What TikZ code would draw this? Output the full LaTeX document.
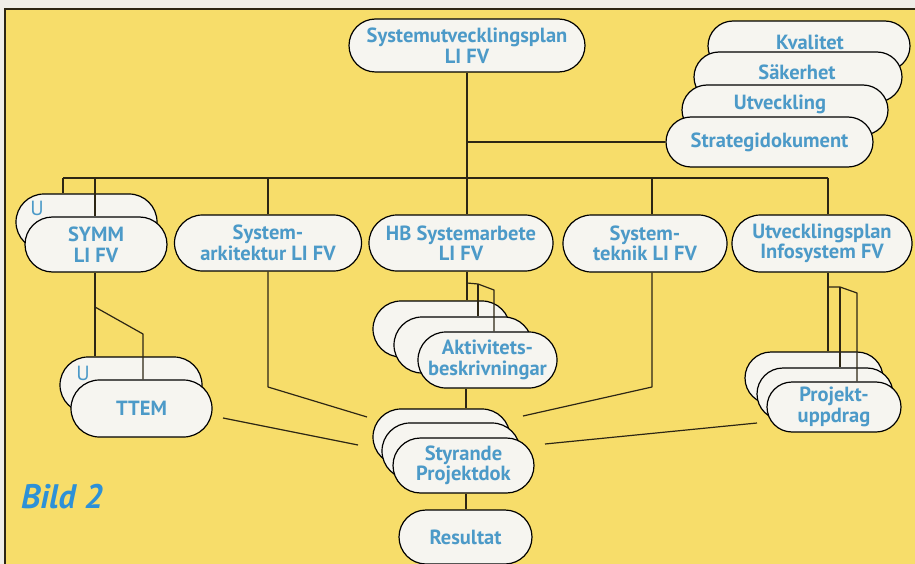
\documentclass[tikz,border=0pt]{standalone}
\usepackage{fontspec}
\setmainfont{PT Sans}
\usetikzlibrary{shapes.misc}
\definecolor{bgyellow}{RGB}{247,221,106}
\definecolor{outside}{RGB}{240,238,232}
\definecolor{pillbg}{RGB}{246,245,240}
\definecolor{txtblue}{RGB}{76,154,200}
\definecolor{bildblue}{RGB}{45,145,215}
\definecolor{linec}{RGB}{45,38,20}
\newcommand{\pillfont}{\bfseries\fontsize{20.5}{20.5}\selectfont}
\begin{document}
\begin{tikzpicture}[x=1pt,y=-1pt,
  pill/.style={rounded rectangle, draw=black, fill=pillbg, line width=1.2pt,
    inner sep=0pt, text=txtblue, font=\pillfont, align=center},
  lbl/.style={text=txtblue, font=\pillfont, inner sep=0pt},
  ulbl/.style={text=txtblue, font=\fontsize{20.5}{20.5}\selectfont, inner sep=0pt},
  conn/.style={draw=linec, line width=1.2pt, line join=round}]
\useasboundingbox (0,0) rectangle (915,564);
\clip (0,0) rectangle (915,564);
\fill[outside] (0,0) rectangle (915,564);
\draw[fill=bgyellow, draw=linec, line width=1.2pt] (5,9) rectangle (940,590);

% top node
\node[pill, minimum width=236pt, minimum height=53pt] (top) at (467,45.5) {Systemutvecklingsplan\\LI FV};

% strategy stack
\node[pill, minimum width=202pt, minimum height=50pt] (kval) at (809,46) {};
\node[lbl] (kvalt) at (810,42) {Kvalitet};
\node[pill, minimum width=208pt, minimum height=50pt] (sak) at (798,77) {};
\node[lbl] (sakt) at (797,72) {Säkerhet};
\node[pill, minimum width=206pt, minimum height=50pt] (utv) at (785,110) {};
\node[lbl] (utvt) at (780,104) {Utveckling};
\node[pill, minimum width=207pt, minimum height=50pt] (strat) at (769.5,142) {Strategidokument};

% second row
\node[pill, minimum width=141pt, minimum height=56pt] (symmU) at (86.5,222) {};
\node[ulbl] (symmUt) at (37,208) {U};
\node[pill, minimum width=142pt, minimum height=55pt] (symm) at (96,244.5) {SYMM\\LI FV};
\node[pill, minimum width=187pt, minimum height=56pt] (arch) at (268,243) {System-\\arkitektur LI FV};
\node[pill, minimum width=184pt, minimum height=56pt] (hb) at (461,243) {HB Systemarbete\\LI FV};
\node[pill, minimum width=164pt, minimum height=57pt] (tek) at (645,243.5) {System-\\teknik LI FV};
\node[pill, minimum width=180pt, minimum height=57pt] (uip) at (822,243.5) {Utvecklingsplan\\Infosystem FV};

% TTEM stack
\node[pill, minimum width=142pt, minimum height=56pt] (ttemU) at (131,385) {};
\node[ulbl] (ttemUt) at (83,373) {U};
\node[pill, minimum width=141pt, minimum height=57pt] (ttem) at (141.5,408.5) {TTEM};

% Aktivitets stack
\node[pill, minimum width=137pt, minimum height=56pt] (akt1) at (441.5,329) {};
\node[pill, minimum width=138pt, minimum height=56pt] (akt2) at (463,345) {};
\node[pill, minimum width=139pt, minimum height=56pt] (akt3) at (487.5,360) {Aktivitets-\\beskrivningar};

% Styrande stack
\node[pill, minimum width=137pt, minimum height=56pt] (sty1) at (441.5,437) {};
\node[pill, minimum width=138pt, minimum height=56pt] (sty2) at (451,451) {};
\node[pill, minimum width=141pt, minimum height=55pt] (sty3) at (463.5,465.5) {Styrande\\Projektdok};

% Projekt stack
\node[pill, minimum width=138pt, minimum height=52pt] (pr1) at (814,378) {};
\node[pill, minimum width=136pt, minimum height=52pt] (pr2) at (825,394) {};
\node[pill, minimum width=134pt, minimum height=50pt] (pr3) at (834,407) {Projekt-\\uppdrag};

% Resultat
\node[pill, minimum width=133pt, minimum height=54pt] (res) at (465.5,537) {Resultat};

% Bild 2
\node[text=bildblue, font=\bfseries\itshape\fontsize{34}{36}\selectfont, inner sep=0pt] (bild) at (62,497) {Bild 2};

% coordinates
\coordinate (bar) at (0,178);
\coordinate (sb) at (467,142);
\coordinate (c1) at (63,178);
\coordinate (c2) at (95,178);
\coordinate (c3) at (268,178);
\coordinate (c8) at (652,178);
\coordinate (c9) at (828,178);
\coordinate (c10) at (466,0);
\coordinate (sj) at (95,307);
\coordinate (sk) at (143,334);
\coordinate (ab) at (268,387);
\coordinate (ae) at (367,417);
\coordinate (ts) at (223,418);
\coordinate (te) at (358,445);
\coordinate (hj) at (467,283);
\coordinate (hk) at (478,284);
\coordinate (hl) at (494,290);
\coordinate (tb) at (652,387);
\coordinate (tend) at (523,416);
\coordinate (ps) at (757,423);
\coordinate (pe) at (545,444);
\coordinate (uj) at (828,287);
\coordinate (uk) at (840,287);
\coordinate (ul) at (857,293);

% connectors
\draw[conn] (top.south) -- (top.south |- hb.north);
\draw[conn] (c1) -- (c9);
\draw[conn] (sb) -- (strat.west);
\draw[conn] (c1) -- (c1 |- symmU.north);
\draw[conn] (c2) -- (c2 |- symm.north);
\draw[conn] (c3) -- (c3 |- arch.north);
\draw[conn] (c8) -- (c8 |- tek.north);
\draw[conn] (c9) -- (c9 |- uip.north);

\draw[conn] (c2 |- symm.south) -- (c2 |- ttemU.north);
\draw[conn] (sj) -- (sk) -- (sk |- ttem.north);
\draw[conn] (c3 |- arch.south) -- (ab) -- (ae);
\draw[conn] (ts) -- (te);

\draw[conn] (hj |- hb.south) -- (hj |- akt1.north);
\draw[conn] (hj) -- (hk) -- (hl) -- (hl |- akt3.north);
\draw[conn] (hk) -- (hk |- akt2.north);
\draw[conn] (c10 |- akt3.south) -- (c10 |- sty1.north);

\draw[conn] (c8 |- tek.south) -- (tb) -- (tend);
\draw[conn] (ps) -- (pe);

\draw[conn] (c9 |- uip.south) -- (c9 |- pr1.north);
\draw[conn] (uj) -- (uk) -- (ul) -- (ul |- pr3.north);
\draw[conn] (uk) -- (uk |- pr2.north);

\draw[conn] (c10 |- sty3.south) -- (c10 |- res.north);
\end{tikzpicture}
\end{document}
